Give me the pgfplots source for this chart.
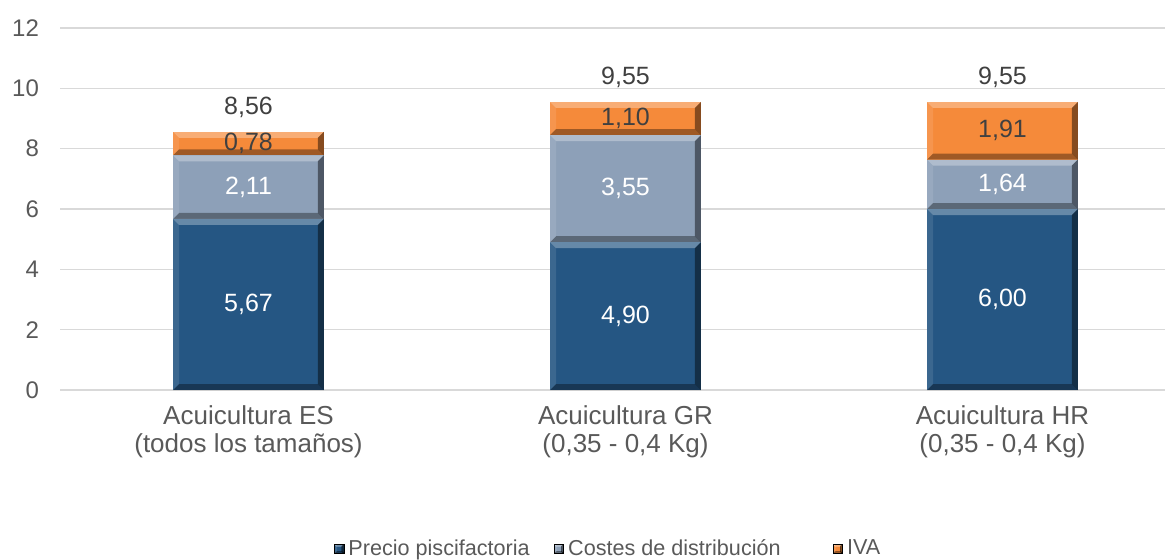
\documentclass[border=0pt]{standalone}
\usepackage{pgfplots}
\pgfplotsset{compat=1.18}
\usepackage{fontspec}
\setmainfont{Liberation Sans}
\definecolor{cblue}{HTML}{255683}
\definecolor{cgray}{HTML}{8DA0B8}
\definecolor{corange}{HTML}{F58A3A}
\definecolor{labelgray}{HTML}{595959}
\definecolor{darktext}{HTML}{404040}
\definecolor{gridgray}{HTML}{D9D9D9}
\def\bevellevel{0}
\def\NW{path picture bounding box.north west}
\def\NE{path picture bounding box.north east}
\def\SW{path picture bounding box.south west}
\def\SE{path picture bounding box.south east}
\tikzset{bevel/.style={path picture={\ifnum\bevellevel=0 \def\bevellevel{1}%
  \fill[white,opacity=0.30] (\NW) -- (\NE) -- ([shift={(-#1,-#1)}]\NE) -- ([shift={(#1,-#1)}]\NW) -- cycle;
  \fill[black,opacity=0.35] (\SW) -- (\SE) -- ([shift={(-#1,#1)}]\SE) -- ([shift={(#1,#1)}]\SW) -- cycle;
  \fill[white,opacity=0.10] (\NW) -- (\SW) -- ([shift={(#1,#1)}]\SW) -- ([shift={(#1,-#1)}]\NW) -- cycle;
  \fill[black,opacity=0.45] (\NE) -- (\SE) -- ([shift={(-#1,#1)}]\SE) -- ([shift={(-#1,-#1)}]\NE) -- cycle;
\fi}}, bevel/.default=3pt}
\pgfplotsset{samebox/.style={scale only axis, width=552.5pt, height=181pt,
  xmin=-0.5, xmax=2.431, ymin=0, ymax=12, hide axis, clip=false}}
\begin{document}
\begin{tikzpicture}
% frame: grid, ticks, category labels, legend
\begin{axis}[
  scale only axis, width=552.5pt, height=181pt,
  xmin=-0.5, xmax=2.431, ymin=0, ymax=12,
  xtick={0,1,2},
  xticklabels={{Acuicultura ES\\(todos los tamaños)},{Acuicultura GR\\(0,35 - 0,4 Kg)},{Acuicultura HR\\(0,35 - 0,4 Kg)}},
  xticklabel style={align=center, font=\fontsize{13}{13.6}\selectfont, text=labelgray, yshift=-4.5pt},
  ytick={0,2,...,12},
  yticklabel style={font=\fontsize{12}{13}\selectfont, text=labelgray, xshift=-7pt},
  /pgf/number format/assume math mode=true,
  major tick length=0pt,
  xtick style={draw=none}, ytick style={draw=none},
  ymajorgrids, grid style={color=gridgray, line width=0.6pt},
  axis x line*=bottom, axis y line*=left,
  x axis line style={gridgray, line width=0.6pt, -},
  y axis line style={draw=none},
  legend style={at={(0.497,-0.439)}, anchor=center, draw=none, fill=none,
    legend columns=3, font=\fontsize{10.8}{12}\selectfont, text=labelgray,
    /tikz/every even column/.append style={column sep=10pt}},
  legend image code/.code={\fill[#1] (0pt,-2.4pt) rectangle (4.8pt,2.4pt);},
]
\addlegendimage{fill=cblue, bevel=1.1pt}
\addlegendimage{fill=cgray, bevel=1.1pt}
\addlegendimage{fill=corange, bevel=1.1pt}
\legend{Precio piscifactoria, Costes de distribución\hspace*{14pt}, IVA}
\end{axis}
% bars: one stacked axis per category
\begin{axis}[samebox, ybar stacked, bar width=0.4]
\addplot[fill=cblue, draw=none, bevel] coordinates {(0,5.67)};
\addplot[fill=cgray, draw=none, bevel] coordinates {(0,2.11)};
\addplot[fill=corange, draw=none, bevel] coordinates {(0,0.78)};
\end{axis}
\begin{axis}[samebox, ybar stacked, bar width=0.4]
\addplot[fill=cblue, draw=none, bevel] coordinates {(1,4.90)};
\addplot[fill=cgray, draw=none, bevel] coordinates {(1,3.55)};
\addplot[fill=corange, draw=none, bevel] coordinates {(1,1.10)};
\end{axis}
\begin{axis}[samebox, ybar stacked, bar width=0.4]
\addplot[fill=cblue, draw=none, bevel] coordinates {(2,6.00)};
\addplot[fill=cgray, draw=none, bevel] coordinates {(2,1.64)};
\addplot[fill=corange, draw=none, bevel] coordinates {(2,1.91)};
\end{axis}
% data labels
\begin{axis}[samebox,
  nodes near coords, point meta=explicit symbolic,
  every node near coord/.append style={anchor=center, font=\fontsize{12.5}{14}\selectfont},
]
\addplot[draw=none, every node near coord/.append style={text=white}] coordinates {(0,2.835)[5,67] (1,2.45)[4,90] (2,3.00)[6,00]};
\addplot[draw=none, every node near coord/.append style={text=white}] coordinates {(0,6.725)[2,11] (1,6.675)[3,55] (2,6.82)[1,64]};
\addplot[draw=none, every node near coord/.append style={text=darktext}] coordinates {(0,8.17)[0,78] (1,9.00)[1,10] (2,8.595)[1,91]};
\addplot[draw=none, every node near coord/.append style={text=darktext, yshift=12.4pt}] coordinates {(0,8.56)[8,56] (1,9.55)[9,55] (2,9.55)[9,55]};
\end{axis}
\pgfresetboundingbox
\path (-30pt,-84.5pt) rectangle (552.5pt,195pt);
\end{tikzpicture}
\end{document}
